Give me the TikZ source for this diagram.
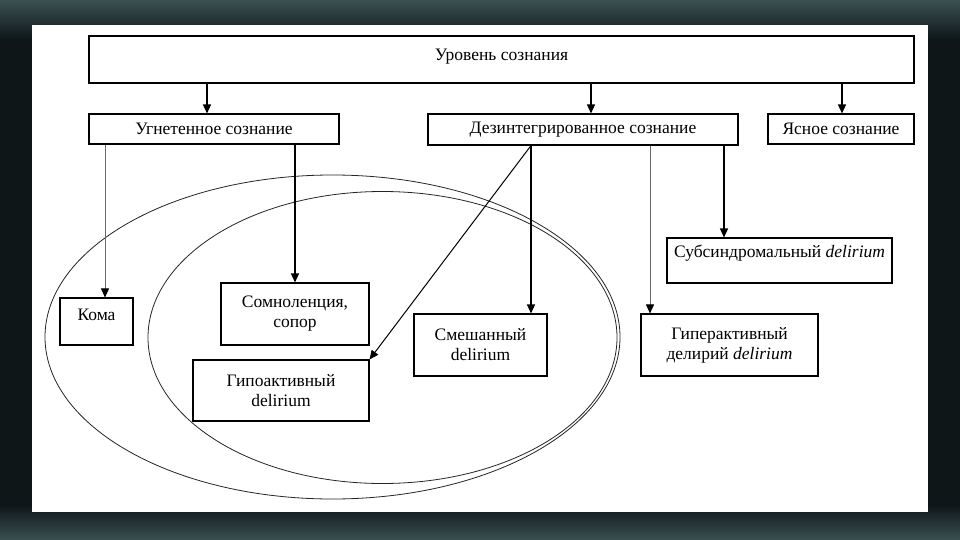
\documentclass[tikz,border=0pt]{standalone}
\usepackage{fontspec}
\setmainfont{Liberation Serif}
\usetikzlibrary{arrows.meta, positioning, calc}
\definecolor{BoardDark}{RGB}{14, 22, 24}
\definecolor{BoardTeal}{RGB}{58, 80, 82}
\definecolor{LinkGrey}{RGB}{105, 105, 105}

\begin{document}
\begin{tikzpicture}[x=1pt, y=-1pt,
    box/.style={draw=black, line width=1.1pt, fill=white, inner sep=2pt,
                align=center, font=\fontsize{17.5}{20}\selectfont},
    link/.style={line width=1.3pt, -{Triangle[length=9pt, width=8pt]}},
    thinlink/.style={draw=LinkGrey, line width=0.6pt,
                     -{Triangle[length=9pt, width=8pt, color=black]}},
    ring/.style={draw=black!85, line width=0.8pt}]
    \useasboundingbox (0,0) rectangle (960,540);
    % Board and sheet
    \fill[BoardDark] (0,0) rectangle (960,540);
    \shade[top color=BoardTeal, bottom color=BoardDark] (0,0) rectangle (960,40);
    \shade[top color=BoardDark, bottom color=BoardTeal] (0,505) rectangle (960,540);
    \fill[white] (32,25) rectangle (928,512);
    % Groups
    \draw[ring] (332.5,337) ellipse [x radius=287.5pt, y radius=162pt];
    \draw[ring] (382.5,337.5) ellipse [x radius=234.5pt, y radius=146pt];
    % Top row
    \node[box, minimum width=825pt, minimum height=47pt, text depth=10pt] (top) at (501.5,59.5) {Уровень сознания};
    \node[box, minimum width=250pt, minimum height=30pt] (ugn) at (214,129) {Угнетенное сознание};
    \node[box, minimum width=310pt, minimum height=31pt] (dez) at (583,129.5) {Дезинтегрированное сознание};
    \node[box, minimum width=146pt, minimum height=30pt] (yas) at (841,129) {Ясное сознание};
    % Lower boxes
    \node[box, minimum width=225pt, minimum height=45pt, text depth=18pt] (subs) at (779.5,260.5) {Субсиндромальный \textit{delirium}};
    \node[box, minimum width=73pt, minimum height=47pt, text depth=14pt] (koma) at (96.5,321.5) {Кома};
    \node[box, minimum width=148pt, minimum height=62pt] (somn) at (295,314) {Сомноленция,\\сопор};
    \node[box, minimum width=176pt, minimum height=61pt] (gipo) at (281,390.5) {Гипоактивный\\delirium};
    \node[box, minimum width=133pt, minimum height=62pt] (smesh) at (480.5,345) {Смешанный\\delirium};
    \node[box, minimum width=177pt, minimum height=62pt] (giper) at (729.5,345) {Гиперактивный\\делирий \textit{delirium}};
    % Level arrows
    \foreach \n/\dx in {ugn/-7, dez/8, yas/1} {
        \coordinate (tip) at ([xshift=\dx pt]\n.north);
        \draw[link] (tip |- top.south) -- (tip);
    }
    % Depressed consciousness
    \coordinate (km) at ([xshift=8.5pt]koma.north);
    \draw[thinlink] (km |- ugn.south) -- (km);
    \draw[link] (somn.north |- ugn.south) -- (somn.north);
    % Disintegrated consciousness
    \coordinate (dzA) at ([xshift=-52pt]dez.south);
    \coordinate (dzB) at ([xshift=67pt]dez.south);
    \coordinate (dzC) at ([xshift=141pt]dez.south);
    \draw[link] (dzA) -- (dzA |- smesh.north);
    \draw[link, line width=1pt] (dzA) -- (gipo.north east);
    \draw[thinlink] (dzB) -- (dzB |- giper.north);
    \draw[link] (dzC) -- (dzC |- subs.north);
\end{tikzpicture}
\end{document}
